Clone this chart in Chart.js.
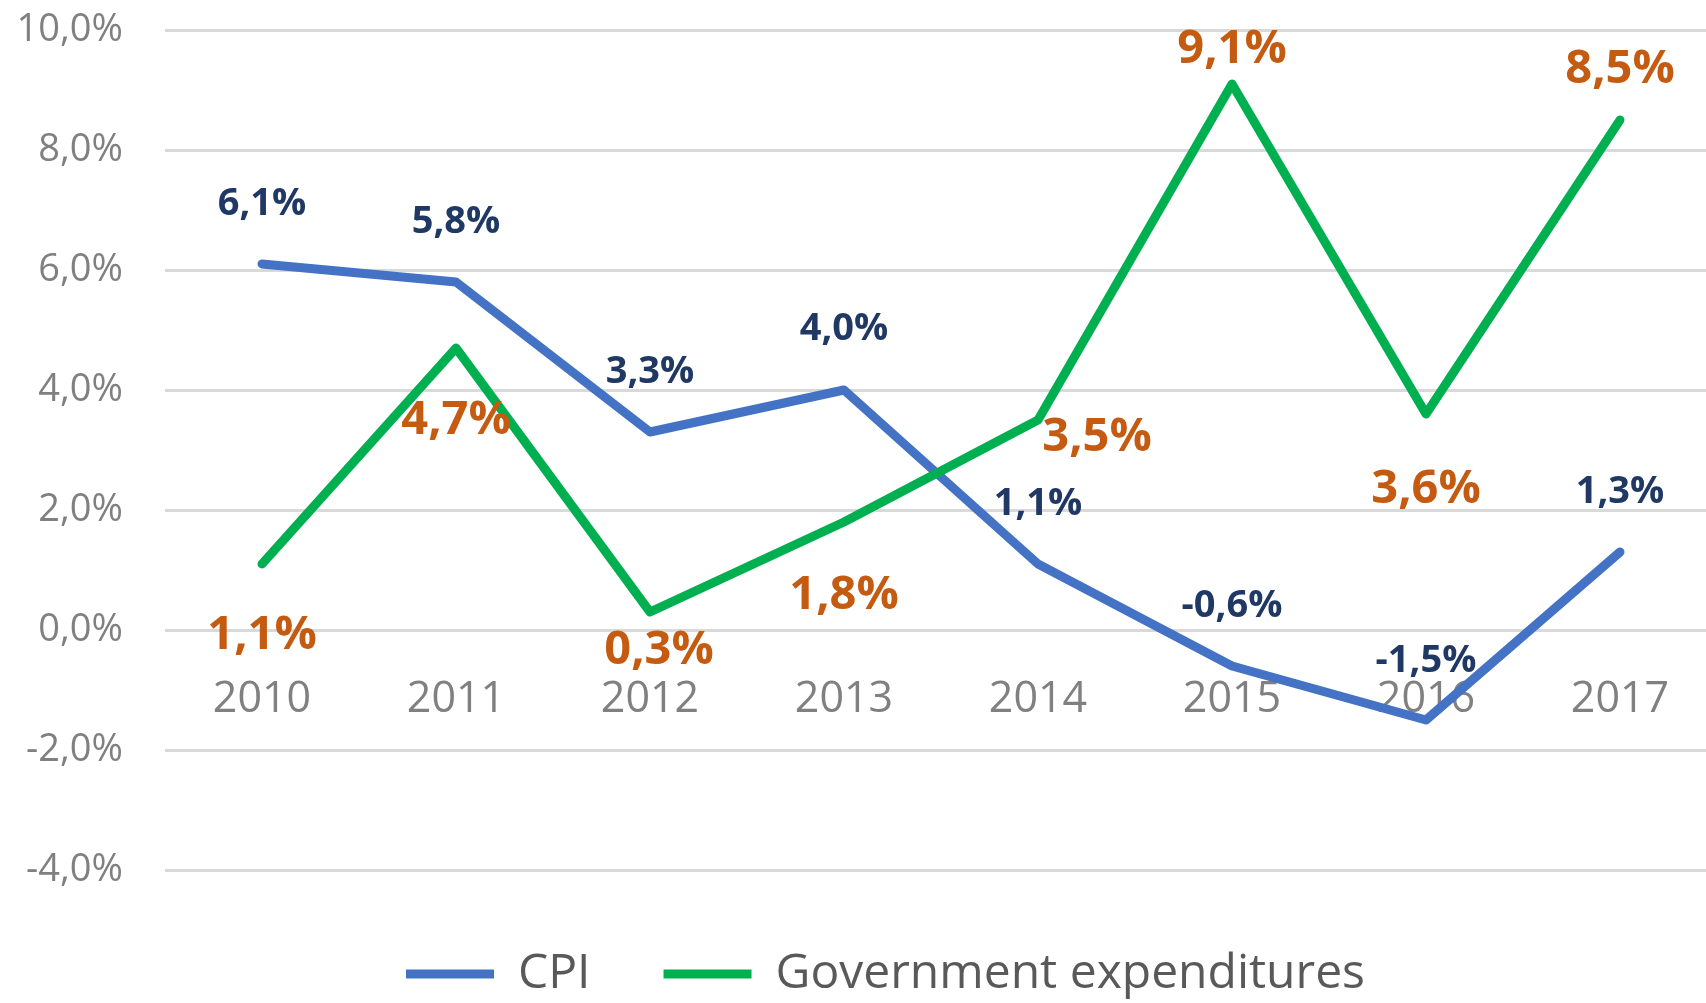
<!DOCTYPE html>
<html>
<head>
<meta charset="utf-8">
<script src="https://cdn.jsdelivr.net/npm/chart.js@4.4.0/dist/chart.umd.min.js"></script>
<style>
  html, body { margin: 0; padding: 0; background: #ffffff; overflow: hidden; }
  #wrap { position: relative; width: 1720px; height: 1001px; }
</style>
</head>
<body>
<div id="wrap"><canvas id="c"></canvas></div>
<script>
// ---- data ----
const years = ['2010', '2011', '2012', '2013', '2014', '2015', '2016', '2017'];
const cpi = [6.1, 5.8, 3.3, 4.0, 1.1, -0.6, -1.5, 1.3];
const govExpenditures = [1.1, 4.7, 0.3, 1.8, 3.5, 9.1, 3.6, 8.5];
const yTickValues = [-4, -2, 0, 2, 4, 6, 8, 10];
const seriesNames = ['CPI', 'Government expenditures'];

// ---- label placement (style only) ----
const cpiLabelDx = [0, 0, 0, 0, 0, 0, 0, 0];
const cpiLabelDy = [-60, -60, -60, -61, -60, -60, -59, -60];
const govLabelDx = [0, 0, 9, 0, 59, 0, 0, 0];
const govLabelDy = [72, 73, 39, 74, 18, -34, 76, -50];

const fmt = v => Number(v).toFixed(1).replace('.', ',') + '%';
const FONT = '"Open Sans", "DejaVu Sans", sans-serif';

const labelStyles = [
  { size: 38, color: '#1f3864', dx: cpiLabelDx, dy: cpiLabelDy },
  { size: 47, color: '#c55a11', dx: govLabelDx, dy: govLabelDy }
];

const valueLabels = {
  id: 'valueLabels',
  afterDatasetsDraw(chart) {
    const ctx = chart.ctx;
    chart.data.datasets.forEach((ds, di) => {
      const meta = chart.getDatasetMeta(di);
      const st = labelStyles[di];
      ctx.save();
      ctx.font = 'bold ' + st.size + 'px ' + FONT;
      ctx.fillStyle = st.color;
      ctx.textAlign = 'center';
      ctx.textBaseline = 'middle';
      meta.data.forEach((pt, i) => {
        ctx.fillText(fmt(ds.data[i]), pt.x + st.dx[i], pt.y + st.dy[i]);
      });
      ctx.restore();
    });
  }
};

// legend sits a little right of and below its default place in the original
const legendShift = {
  id: 'legendShift',
  afterLayout(chart) {
    const l = chart.legend;
    if (l) { l.left += 22; l.right += 22; l.top += 7; l.bottom += 7; }
  }
};

function draw() {
  Chart.defaults.font.family = FONT;
  new Chart(document.getElementById('c'), {
    type: 'line',
    data: {
      labels: years,
      datasets: [
        {
          label: seriesNames[0], data: cpi, borderColor: '#4472c4', backgroundColor: '#4472c4',
          borderWidth: 9, pointRadius: 0, tension: 0, borderCapStyle: 'round', borderJoinStyle: 'round',
          order: 1
        },
        {
          label: seriesNames[1], data: govExpenditures, borderColor: '#00b050', backgroundColor: '#00b050',
          borderWidth: 9, pointRadius: 0, tension: 0, borderCapStyle: 'round', borderJoinStyle: 'round',
          order: 0
        }
      ]
    },
    options: {
      responsive: true,
      maintainAspectRatio: false,
      animation: false,
      devicePixelRatio: 1,
      layout: { padding: { left: 10, right: 3, top: 30, bottom: 0 } },
      scales: {
        x: {
          type: 'category',
          position: { y: 0 },
          offset: true,
          grid: { display: false },
          border: { display: false },
          ticks: { color: '#808080', font: { size: 43 }, padding: 36, maxRotation: 0, autoSkip: false }
        },
        y: {
          min: -4, max: 10,
          afterBuildTicks: s => { s.ticks = yTickValues.map(v => ({ value: v })); },
          afterFit: s => { s.width = 155; },
          grid: { color: '#d9d9d9', lineWidth: 3, drawTicks: true, tickLength: 42, tickColor: 'rgba(0,0,0,0)' },
          border: { display: false },
          ticks: { padding: 0, color: '#808080', font: { size: 38 }, callback: v => fmt(v) }
        }
      },
      plugins: {
        legend: {
          position: 'bottom',
          labels: {
            usePointStyle: true, pointStyle: 'line', pointStyleWidth: 88,
            font: { size: 48 }, color: '#595959', padding: 73,
            sort: (a, b) => a.datasetIndex - b.datasetIndex
          }
        },
        tooltip: { enabled: false }
      }
    },
    plugins: [valueLabels, legendShift]
  });
}

Promise.all([
  document.fonts.load('38px "Open Sans"'),
  document.fonts.load('bold 38px "Open Sans"')
]).then(draw, draw);
</script>
</body>
</html>
